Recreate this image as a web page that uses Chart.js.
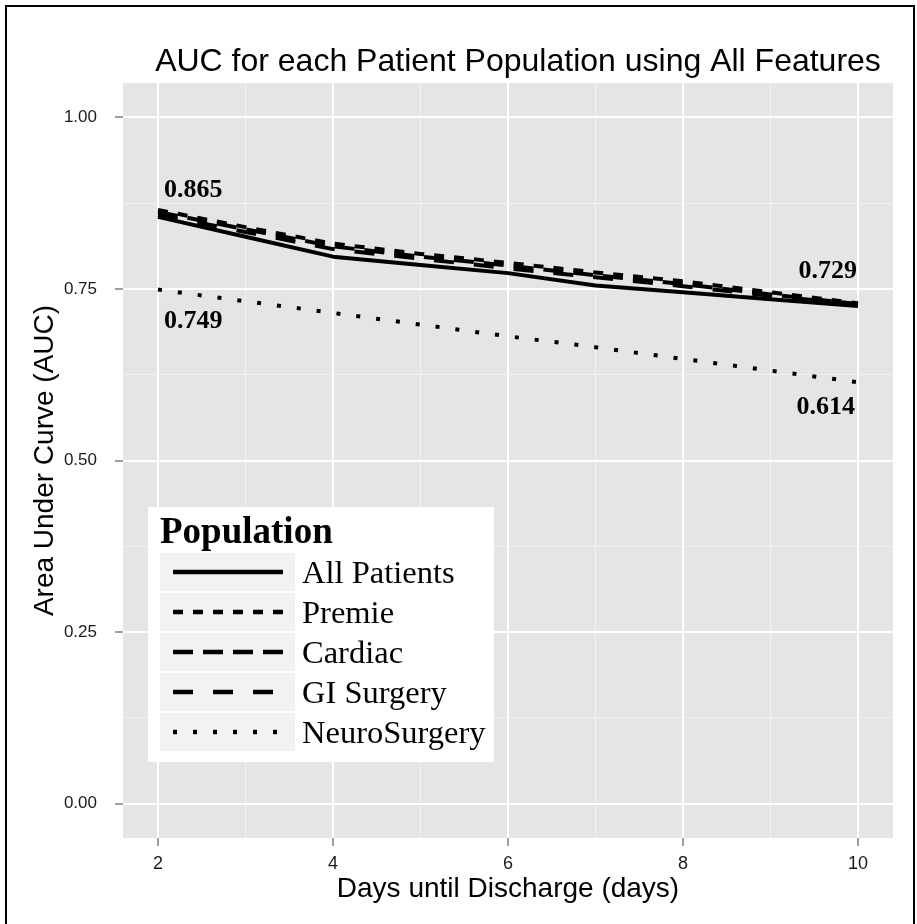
<!DOCTYPE html>
<html><head><meta charset="utf-8">
<script src="https://cdn.jsdelivr.net/npm/chart.js@4.4.0/dist/chart.umd.min.js"></script>
<style>
html,body{margin:0;padding:0;background:#fff;overflow:hidden}
#wrap{position:relative;width:917px;height:924px;overflow:hidden}
#frame{position:absolute;left:5px;top:5px;width:906px;height:940px;border:2px solid #000;pointer-events:none}
canvas{position:absolute;left:0;top:0}
</style></head><body>
<div id="wrap"><canvas id="c" width="917" height="924"></canvas><div id="frame"></div></div>
<script>
// ---- data ----
const days = [2, 3, 4, 5, 6, 7, 8, 9, 10];
const seriesNames = ['All Patients', 'Premie', 'Cardiac', 'GI Surgery', 'NeuroSurgery'];
const allPatients  = [0.855, 0.826, 0.797, 0.785, 0.773, 0.755, 0.745, 0.735, 0.725];
const premie       = [0.865, 0.840, 0.816, 0.801, 0.788, 0.774, 0.761, 0.745, 0.729];
const cardiac      = [0.862, 0.837, 0.812, 0.797, 0.784, 0.770, 0.757, 0.742, 0.728];
const giSurgery    = [0.858, 0.833, 0.808, 0.794, 0.780, 0.767, 0.754, 0.740, 0.727];
const neuroSurgery = [0.749, 0.732, 0.715, 0.698, 0.681, 0.665, 0.648, 0.631, 0.614];
const xTickValues = [2, 3, 4, 5, 6, 7, 8, 9, 10];
const yTickValues = [0, 0.125, 0.25, 0.375, 0.5, 0.625, 0.75, 0.875, 1];
const seriesValues = [allPatients, premie, cardiac, giSurgery, neuroSurgery];
const chartTitle = 'AUC for each Patient Population using All Features';

// ---- styles ----
const dashes = [[], [10, 10], [20, 10], [20, 20], [4, 16]];
const SANS = '"Liberation Sans", Arial, sans-serif';
const SERIF = '"Liberation Serif", "Times New Roman", serif';

const datasets = seriesNames.map((name, i) => ({
  label: name,
  data: days.map((d, j) => ({x: d, y: seriesValues[i][j]})),
  borderColor: '#000',
  backgroundColor: '#000',
  borderWidth: 4,
  borderDash: dashes[i],
  borderCapStyle: 'butt',
  borderJoinStyle: 'round',
  pointRadius: 0,
  tension: 0,
  fill: false
}));

// value annotations: top series start/end and NeuroSurgery start/end
const last = days.length - 1;
const topStart = Math.max(...seriesValues.map(s => s[0]));
const topEnd = Math.max(...seriesValues.map(s => s[last]));
const annots = [
  {x: days[0], y: topStart, dx: 6, dy: -20, align: 'left'},
  {x: days[0], y: neuroSurgery[0], dx: 6, dy: 32, align: 'left'},
  {x: days[last], y: topEnd, dx: -1, dy: -32, align: 'right'},
  {x: days[last], y: neuroSurgery[last], dx: -3, dy: 25, align: 'right'}
];

const panelBg = {
  id: 'panelBg',
  beforeDraw(chart) {
    const {ctx, chartArea: a} = chart;
    ctx.save();
    ctx.fillStyle = '#E5E5E5';
    ctx.fillRect(a.left, a.top, a.right - a.left, a.bottom - a.top);
    ctx.restore();
  }
};

const overlay = {
  id: 'overlay',
  afterDraw(chart) {
    const {ctx, chartArea: a, scales} = chart;
    ctx.save();
    // title
    ctx.fillStyle = '#000';
    ctx.font = '32px ' + SANS;
    ctx.textAlign = 'center';
    ctx.textBaseline = 'middle';
    ctx.fillText(chartTitle, (a.left + a.right) / 2 + 10, a.top - 21);
    // annotations
    ctx.font = 'bold 26px ' + SERIF;
    annots.forEach(an => {
      const px = scales.x.getPixelForValue(an.x) + an.dx;
      const py = scales.y.getPixelForValue(an.y) + an.dy;
      ctx.textAlign = an.align;
      ctx.fillText(an.y.toFixed(3), px, py);
    });
    // legend
    const L = a.left + 25, T = a.top + 424;
    ctx.fillStyle = '#fff';
    ctx.fillRect(L, T, 346, 255);
    ctx.fillStyle = '#000';
    ctx.textAlign = 'left';
    ctx.textBaseline = 'alphabetic';
    ctx.font = 'bold 37px ' + SERIF;
    ctx.fillText('Population', L + 12, T + 36);
    chart.data.datasets.forEach((ds, i) => {
      const ky = T + 46 + i * 40;
      ctx.fillStyle = '#F2F2F2';
      ctx.fillRect(L + 12, ky, 135, 38);
      ctx.strokeStyle = '#000';
      ctx.lineWidth = 4.5;
      ctx.lineCap = 'butt';
      ctx.setLineDash(ds.borderDash);
      ctx.beginPath();
      ctx.moveTo(L + 25, ky + 19);
      ctx.lineTo(L + 135, ky + 19);
      ctx.stroke();
      ctx.setLineDash([]);
      ctx.fillStyle = '#000';
      ctx.font = '32.5px ' + SERIF;
      ctx.textBaseline = 'middle';
      ctx.fillText(ds.label, L + 154, ky + 21);
    });
    ctx.restore();
  }
};

const isMajorX = v => v % 2 === 0;
const isMajorY = v => Math.abs(v * 4 - Math.round(v * 4)) < 1e-9;

new Chart(document.getElementById('c'), {
  type: 'line',
  data: {datasets},
  plugins: [panelBg, overlay],
  options: {
    responsive: false,
    animation: false,
    devicePixelRatio: 1,
    layout: {padding: {left: 0, right: 24, top: 83, bottom: 0}},
    plugins: {
      legend: {display: false},
      tooltip: {enabled: false},
      title: {display: false}
    },
    scales: {
      x: {
        type: 'linear',
        min: 1.6, max: 10.4,
        afterBuildTicks: s => { s.ticks = xTickValues.map(v => ({value: v})); },
        afterFit: s => { s.height = 86; },
        border: {display: false},
        grid: {
          color: c => isMajorX(c.tick.value) ? '#FFFFFF' : '#F2F2F2',
          lineWidth: c => isMajorX(c.tick.value) ? 2 : 1,
          tickColor: c => isMajorX(c.tick.value) ? '#7F7F7F' : 'rgba(0,0,0,0)',
          tickWidth: 1.5,
          tickLength: 8
        },
        ticks: {
          autoSkip: false, maxRotation: 0, padding: 7,
          color: '#1a1a1a',
          font: {family: SANS, size: 18},
          callback: v => isMajorX(v) ? String(v) : ''
        },
        title: {
          display: true,
          text: 'Days until Discharge (days)',
          color: '#000',
          font: {family: SANS, size: 28},
          padding: {top: 0, bottom: 18}
        }
      },
      y: {
        type: 'linear',
        min: -0.05, max: 1.05,
        afterBuildTicks: s => { s.ticks = yTickValues.map(v => ({value: v})); },
        afterFit: s => { s.width = 123; },
        border: {display: false},
        grid: {
          color: c => isMajorY(c.tick.value) ? '#FFFFFF' : '#F2F2F2',
          lineWidth: c => isMajorY(c.tick.value) ? 2 : 1,
          tickColor: c => isMajorY(c.tick.value) ? '#7F7F7F' : 'rgba(0,0,0,0)',
          tickWidth: 1.5,
          tickLength: 8
        },
        ticks: {
          autoSkip: false, padding: 18,
          color: '#1a1a1a',
          font: {family: SANS, size: 17},
          callback: v => isMajorY(v) ? v.toFixed(2) : ''
        },
        title: {
          display: true,
          text: 'Area Under Curve (AUC)',
          color: '#000',
          font: {family: SANS, size: 28},
          padding: {top: 28, bottom: 0}
        }
      }
    }
  }
});
</script>
</body></html>
